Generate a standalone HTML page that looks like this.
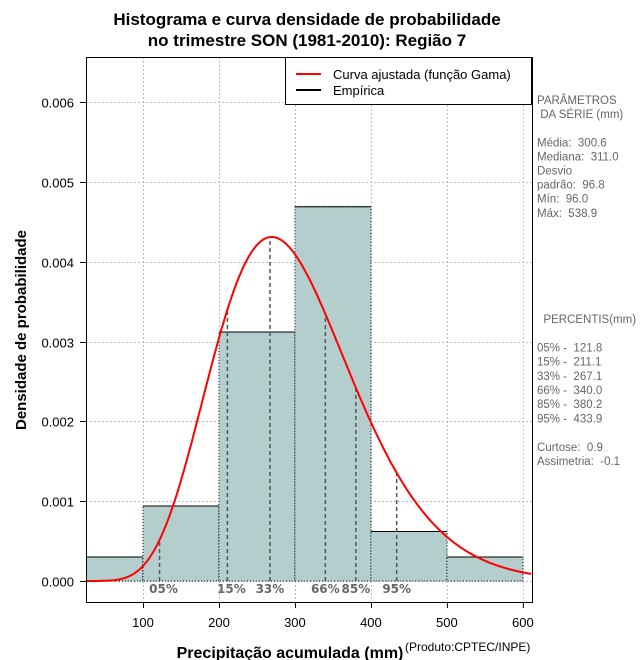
<!DOCTYPE html>
<html><head><meta charset="utf-8"><style>
body{margin:0;background:#fff}
svg{display:block;font-family:"Liberation Sans",sans-serif}
svg text{white-space:pre}
</style></head><body>
<svg id="c" width="640" height="660" viewBox="0 0 640 660"></svg>
<script>
const binEdges=[0,100,200,300,400,500,600];
const binDensity=[0.0003,0.00094,0.00312,0.00469,0.00062,0.0003];
const percentLabels=["05%","15%","33%","66%","85%","95%"];
const percentValues=[121.8,211.1,267.1,340.0,380.2,433.9];
const gammaMean=[300.6];
const gammaSd=[96.8];
const xTicks=[100,200,300,400,500,600];
const yTicks=[0,0.001,0.002,0.003,0.004,0.005,0.006];
const yTickLabels=["0.000","0.001","0.002","0.003","0.004","0.005","0.006"];
const statLines=["PARÂMETROS"," DA SÉRIE (mm)","","Média:  300.6","Mediana:  311.0","Desvio","padrão:  96.8","Mín:  96.0","Máx:  538.9"];
const pctLines=["  PERCENTIS(mm)","","05% -  121.8","15% -  211.1","33% -  267.1","66% -  340.0","85% -  380.2","95% -  433.9","","Curtose:  0.9","Assimetria:  -0.1"];

const NS="http://www.w3.org/2000/svg",svg=document.getElementById('c');
const L=86,R=532,T=57,B=602;
const X0=25,X1=612,Y0=0,Y1=0.00656;
const sx=v=>L+(v-X0)/(X1-X0)*(R-L);
const sy=v=>581-(v-Y0)/0.001*79.8;
function el(t,a,p){const e=document.createElementNS(NS,t);for(const k in a)e.setAttribute(k,a[k]);(p||svg).appendChild(e);return e;}
function lgamma(z){const g=7,c=[0.99999999999980993,676.5203681218851,-1259.1392167224028,771.32342877765313,-176.61502916214059,12.507343278686905,-0.13857109526572012,9.9843695780195716e-6,1.5056327351493116e-7];z-=1;let x=c[0];for(let i=1;i<9;i++)x+=c[i]/(z+i);const t=z+g+0.5;return 0.5*Math.log(2*Math.PI)+(z+0.5)*Math.log(t)-t+Math.log(x);}
const k=(gammaMean[0]/gammaSd[0])**2, th=gammaSd[0]**2/gammaMean[0];
const pdf=x=>x<=0?0:Math.exp((k-1)*Math.log(x)-x/th-lgamma(k)-k*Math.log(th));

let e;
e=el('rect',{x:0,y:0,width:640,height:660,fill:'#fff'});

const clip=el('clipPath',{id:'pc'});el('rect',{x:L,y:T,width:R-L,height:B-T},clip);
const grid=el('g',{stroke:'#bbb','stroke-dasharray':'2,2','stroke-width':1});

xTicks.forEach(v=>el('line',{x1:sx(v)+.5,x2:sx(v)+.5,y1:T,y2:B},grid));
yTicks.forEach(v=>el('line',{x1:L,x2:R,y1:Math.round(sy(v))+.5,y2:Math.round(sy(v))+.5},grid));
const bars=el('g',{'clip-path':'url(#pc)'});

binDensity.forEach((d,i)=>{
 const x1=sx(binEdges[i]),x2=sx(binEdges[i+1]),y=sy(d),y0=sy(0);
 const r=el('rect',{x:x1,y:y,width:x2-x1,height:y0-y,fill:'#b4cdcd',stroke:'#000','stroke-dasharray':'1,2','stroke-width':1},bars);
 
 el('line',{x1:x1,x2:x2,y1:y,y2:y,stroke:'#000','stroke-width':1},bars);
});
const pg=el('g',{});
percentValues.forEach((v,i)=>{
 const x=sx(v);
 el('line',{x1:x,x2:x,y1:sy(0),y2:sy(pdf(v)),stroke:'#555','stroke-width':1.5,'stroke-dasharray':'4,3'},pg);
 const t=el('text',{x:x+(i<2?4:0),y:593,'text-anchor':'middle','font-size':12,'font-weight':'bold',fill:'#666','font-family':'"DejaVu Sans",sans-serif'},pg);
 t.textContent=percentLabels[i];
 
});
let d='';for(let x=X0;x<=X1;x+=2){d+=(d?'L':'M')+sx(x).toFixed(1)+','+sy(pdf(x)).toFixed(1);}
e=el('path',{d:d,fill:'none',stroke:'#f00','stroke-width':2,'clip-path':'url(#pc)'});

e=el('rect',{x:L+.5,y:T+.5,width:R-L,height:B-T,fill:'none',stroke:'#000','stroke-width':1});

const ax=el('g',{'font-size':13});
xTicks.forEach(v=>{el('line',{x1:sx(v)+.5,x2:sx(v)+.5,y1:B,y2:B+6,stroke:'#000'},ax);const t=el('text',{x:sx(v),y:627,'text-anchor':'middle'},ax);t.textContent=v;});
const ay=el('g',{'font-size':13});
yTicks.forEach((v,i)=>{const y=Math.round(sy(v))+.5;el('line',{x1:L-6,x2:L,y1:y,y2:y,stroke:'#000'},ay);const t=el('text',{x:74,y:y+5,'text-anchor':'end'},ay);t.textContent=yTickLabels[i];});
e=el('text',{x:307,y:25,'text-anchor':'middle','font-size':17,'font-weight':'bold'});e.textContent='Histograma e curva densidade de probabilidade';

e=el('text',{x:307,y:46,'text-anchor':'middle','font-size':17,'font-weight':'bold'});e.textContent='no trimestre SON (1981-2010): Região 7';

e=el('text',{x:290,y:658,'text-anchor':'middle','font-size':16,'font-weight':'bold'});e.textContent='Precipitação acumulada (mm)';

e=el('text',{x:405,y:651,'font-size':12});e.textContent='(Produto:CPTEC/INPE)';

e=el('text',{x:0,y:0,'text-anchor':'middle','font-size':15,'font-weight':'bold',transform:'translate(26,330) rotate(-90)'});e.textContent='Densidade de probabilidade';

const lg=el('g',{});
el('rect',{x:285.5,y:57.5,width:246,height:47,fill:'#fff',stroke:'#000'},lg);
el('line',{x1:296,x2:321,y1:74,y2:74,stroke:'#f00','stroke-width':2},lg);
el('line',{x1:296,x2:321,y1:90,y2:90,stroke:'#000','stroke-width':2},lg);
e=el('text',{x:333,y:79,'font-size':13},lg);e.textContent='Curva ajustada (função Gama)';
e=el('text',{x:333,y:95,'font-size':13},lg);e.textContent='Empírica';
const st=el('g',{'font-size':11.5,fill:'#666'});
statLines.forEach((s,i)=>{const t=el('text',{x:537,y:104+i*14.1},st);t.textContent=s;});
const pt=el('g',{'font-size':11.5,fill:'#666'});
pctLines.forEach((s,i)=>{const t=el('text',{x:537,y:323+i*14.2},pt);t.textContent=s;});
</script>
</body></html>
